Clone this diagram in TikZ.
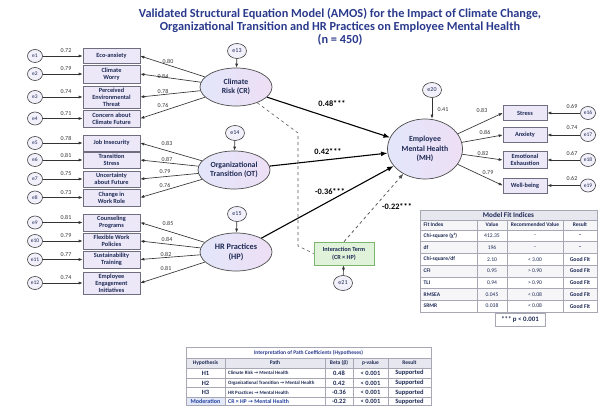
\documentclass[tikz,border=0pt]{standalone}
\usepackage{fontspec}
\setmainfont{Carlito}
\newfontfamily\dejavu{DejaVu Sans}
\usetikzlibrary{arrows.meta,shapes.geometric,calc}
\definecolor{navy}{HTML}{1E2A55}
\definecolor{titleblue}{HTML}{2A3A8C}
\definecolor{boxfill}{HTML}{ECE8F8}
\definecolor{boxdraw}{HTML}{6E6E80}
\definecolor{errfill}{HTML}{F2F0FA}
\definecolor{latL}{HTML}{E3E6FA}
\definecolor{latR}{HTML}{EEDFF5}
\definecolor{greenfill}{HTML}{E0F3DA}
\definecolor{greendraw}{HTML}{7DB46E}
\definecolor{modblue}{HTML}{2440A0}
\definecolor{modfill}{HTML}{E3E9F8}
\definecolor{hdrfill}{HTML}{E7E7EF}
\definecolor{rowfill}{HTML}{F6F6F9}
\definecolor{gridc}{HTML}{A8A8B4}
\newcommand\rar{{\dejavu\char"2192}}
\begin{document}
\begin{tikzpicture}[x=1pt,y=-1pt,
  errs/.style={ellipse, draw=black!75, fill=errfill, line width=0.6pt, minimum width=15pt, minimum height=13pt, inner sep=0pt, font=\fontsize{5.5}{6}\selectfont, text=navy},
  errb/.style={errs, minimum width=19pt, minimum height=15pt, font=\fontsize{6}{7}\selectfont},
  ind/.style={rectangle, draw=boxdraw, fill=boxfill, line width=0.6pt, minimum width=57pt, inner sep=0.5pt, align=center, font=\bfseries\fontsize{6.3}{6.9}\selectfont, text=navy},
  indr/.style={ind, minimum width=44pt},
  lat/.style={ellipse, draw=black!70, line width=0.7pt, left color=latL, right color=latR, minimum width=72pt, minimum height=38pt, inner sep=0pt, align=center, font=\bfseries\fontsize{7.8}{9.2}\selectfont, text=navy},
  arr/.style={draw=black!80, line width=0.65pt, -{Latex[length=4pt,width=3pt]}},
  parr/.style={draw=black, line width=1.1pt, -{Latex[length=6.5pt,width=5pt]}},
  lbl/.style={font=\fontsize{6}{7}\selectfont, text=black!80, inner sep=0.5pt},
  plbl/.style={font=\bfseries\fontsize{8.3}{9}\selectfont, text=black, inner sep=0.5pt},
  tcell/.style={font=\bfseries\fontsize{5.5}{6}\selectfont, text=navy, inner sep=0.5pt},
  grid/.style={draw=gridc, line width=0.5pt}
]
\useasboundingbox[fill=white] (0,0) rectangle (599,406);

% title
\node[align=center, text=titleblue, font=\bfseries\fontsize{12.3}{13}\selectfont] (title) at (340,27)
 {Validated Structural Equation Model (AMOS) for the Impact of Climate Change,\\
  Organizational Transition and HR Practices on Employee Mental Health\\(n = 450)};

% latent variables
\node[lat] (CR) at (236,87) {Climate\\Risk (CR)};
\node[lat] (OT) at (234,170) {Organizational\\Transition (OT)};
\node[lat, font=\bfseries\fontsize{8.3}{9.8}\selectfont] (HP) at (236,252) {HR Practices\\(HP)};
\node[lat, minimum width=75pt, minimum height=60pt] (MH) at (425,149) {Employee\\Mental Health\\(MH)};

\node[errb] (e13) at (237,51) {e13};
\node[errb] (e14) at (235,133) {e14};
\node[errb] (e15) at (237,214) {e15};
\node[errb] (e20) at (432,90) {e20};
\draw[arr] (e13) -- (CR);
\draw[arr] (e14) -- (OT);
\draw[arr] (e15) -- (HP);
\draw[arr] (e20) -- (e20 |- MH.north);
\node[lbl] (l20) at (443,110) {0.41};

% left indicators
\foreach \i/\y/\h/\txt/\l in {
  1/56/15/Eco-anxiety/0.72,
  2/74/18/Climate\\Worry/0.79,
  3/97/22/Perceived\\Environmental\\Threat/0.74,
  4/118.5/17/Concern about\\Climate Future/0.71,
  5/143/16/Job Insecurity/0.78,
  6/160/16/Transition\\Stress/0.81,
  7/179/16/Uncertainty\\about Future/0.75,
  8/197.5/17/Change in\\Work Role/0.73,
  9/222.5/17/Counseling\\Programs/0.81,
  10/241/16/Flexible Work\\Policies/0.79,
  11/259.5/17/Sustainability\\Training/0.77,
  12/283/22/Employee\\Engagement\\Initiatives/0.74}{
  \node[ind, minimum height=\h pt] (b\i) at (111.5,\y) {\txt};
  \node[errs] (e\i) at (35,\y) {e\i};
  \draw[arr] (e\i) -- (b\i);
  \node[lbl] (le\i) at (66,\y-5) {\l};
}
% loadings left
\foreach \i/\src/\l/\lx/\ly in {
  1/CR/0.80/168/61, 2/CR/0.84/163/76, 3/CR/0.78/163/91, 4/CR/0.76/163/105,
  5/OT/0.83/167/143, 6/OT/0.87/167/159, 7/OT/0.79/165/172, 8/OT/0.76/165/185,
  9/HP/0.85/168/223, 10/HP/0.84/167/239, 11/HP/0.82/166/254, 12/HP/0.81/166/268}{
  \draw[arr] (\src) -- (b\i.east);
  \node[lbl] (lb\i) at (\lx,\ly) {\l};
}

% right indicators
\foreach \i/\y/\h/\txt/\le/\lm/\lx/\ly in {
  16/113/15/Stress/0.69/0.83/482/110,
  17/135/15/Anxiety/0.74/0.86/485/132,
  18/160/17/Emotional\\Exhaustion/0.67/0.82/483/153,
  19/185.5/15/Well-being/0.62/0.79/488/173}{
  \node[indr, minimum height=\h pt] (b\i) at (525,\y) {\txt};
  \node[errs] (e\i) at (588,\y) {e\i};
  \draw[arr] (e\i) -- (b\i);
  \node[lbl] (le\i) at (572,\y-7) {\le};
  \draw[arr] (MH) -- (b\i.west);
  \node[lbl] (lb\i) at (\lx,\ly) {\lm};
}

% structural paths
\draw[parr] (CR) -- (MH);
\node[plbl] (p1) at (332,104) {0.48***};
\draw[parr] (OT) -- (MH);
\node[plbl] (p2) at (328,152) {0.42***};
\draw[parr] (HP) -- (MH);
\node[plbl] (p3) at (330,192) {-0.36***};

% interaction term
\node[rectangle, draw=greendraw, fill=greenfill, line width=0.6pt, minimum width=60pt, minimum height=23pt, align=center, inner sep=0.5pt, font=\bfseries\fontsize{6.2}{7.6}\selectfont, text=navy] (IT) at (344,253.5) {Interaction Term\\(CR × HP)};
\node[errb] (e21) at (343,283) {e21};
\draw[arr] (e21) -- (IT);
\coordinate (d1) at (298,133);
\coordinate (d2) at (298,246);
\draw[black!65, line width=0.6pt, dashed] (CR) -- (d1) -- (d2) -- (IT.west);
\draw[black!70, line width=0.7pt, dashed, -{Latex[length=5pt,width=4pt]}] (IT.north) -- (MH);
\node[plbl] (p4) at (397,207) {-0.22***};

% model fit table
\fill[hdrfill] (420,210) rectangle (597,220);
\fill[rowfill] (420,220) rectangle (597,230);
\foreach \k in {1,3,5}{\fill[rowfill] (420,230+11.7*\k) rectangle (597,230+11.7*\k+11.7);}
\draw[grid] (420,210) rectangle (597,312);
\draw[grid] (420,220) -- (597,220);
\foreach \k in {0,...,6}{\draw[grid] (420,230+11.7*\k) -- (597,230+11.7*\k);}
\foreach \cx in {477,507,563}{\draw[grid] (\cx,220) -- (\cx,312);}
\node[tcell, font=\bfseries\fontsize{7.2}{8}\selectfont] (fitT) at (508.5,215) {Model Fit Indices};
\node[tcell, anchor=west] (fh1) at (423,225) {Fit Index};
\node[tcell] (fh2) at (492,225) {Value};
\node[tcell] (fh3) at (535,225) {Recommended Value};
\node[tcell] (fh4) at (580,225) {Result};
\foreach \k/\a/\b/\c/\d in {
  0/{Chi-square (χ²)}/412.35/–/–,
  1/df/196/–/–,
  2/{Chi-square/df}/2.10/< 3.00/Good Fit,
  3/CFI/0.95/> 0.90/Good Fit,
  4/TLI/0.94/> 0.90/Good Fit,
  5/RMSEA/0.045/< 0.08/Good Fit,
  6/SRMR/0.038/< 0.08/Good Fit}{
  \node[tcell, anchor=west] (fa\k) at (423,235.85+11.7*\k) {\a};
  \node[tcell, font=\fontsize{5.6}{6}\selectfont] (fb\k) at (492,235.85+11.7*\k) {\b};
  \node[tcell, font=\fontsize{5.6}{6}\selectfont] (fc\k) at (535,235.85+11.7*\k) {\c};
  \node[tcell, font=\bfseries\fontsize{5.8}{6}\selectfont] (fd\k) at (580,235.85+11.7*\k) {\d};
}
\node[rectangle, draw=gridc, line width=0.6pt, minimum width=50pt, minimum height=13pt, inner sep=0.5pt, font=\bfseries\fontsize{6.8}{7}\selectfont, text=navy] (pnote) at (520,319.5) {*** p < 0.001};

% hypotheses table
\fill[hdrfill] (186,358) rectangle (431,368);
\fill[modfill] (186,397) rectangle (225,405.5);
\draw[grid] (186,347) rectangle (431,405.5);
\foreach \ry in {358,368,378,387.5,397}{\draw[grid] (186,\ry) -- (431,\ry);}
\foreach \cx in {225,325,353,388}{\draw[grid] (\cx,358) -- (\cx,405.5);}
\node[tcell, text=titleblue] (hT) at (308.5,352.5) {Interpretation of Path Coefficients (Hypotheses)};
\node[tcell] (hh1) at (205.5,363) {Hypothesis};
\node[tcell] (hh2) at (275,363) {Path};
\node[tcell] (hh3) at (339,363) {Beta (β)};
\node[tcell] (hh4) at (370.5,363) {p-value};
\node[tcell] (hh5) at (409.5,363) {Result};
\foreach \k/\ry/\a/\b/\c in {
  1/373/H1/{Climate Risk \rar\ Mental Health}/0.48,
  2/383/H2/{Organizational Transition \rar\ Mental Health}/0.42,
  3/392.5/H3/{HR Practices \rar\ Mental Health}/-0.36}{
  \node[tcell, font=\bfseries\fontsize{6.5}{7}\selectfont] (ha\k) at (205.5,\ry) {\a};
  \node[tcell, anchor=west, font=\bfseries\fontsize{4.9}{5.5}\selectfont] (hb\k) at (227.5,\ry) {\b};
  \node[tcell, font=\bfseries\fontsize{6.5}{7}\selectfont] (hc\k) at (339,\ry) {\c};
  \node[tcell, font=\bfseries\fontsize{6.5}{7}\selectfont] (hd\k) at (370.5,\ry) {< 0.001};
  \node[tcell, font=\bfseries\fontsize{6.5}{7}\selectfont] (he\k) at (409.5,\ry) {Supported};
}
\node[tcell, text=modblue, font=\bfseries\fontsize{6}{7}\selectfont] (ha4) at (205.5,401.5) {Moderation};
\node[tcell, anchor=west, text=modblue, font=\bfseries\fontsize{5.8}{6.5}\selectfont] (hb4) at (227.5,401.5) {CR × HP \rar\ Mental Health};
\node[tcell, font=\bfseries\fontsize{6.5}{7}\selectfont] (hc4) at (339,401.5) {-0.22};
\node[tcell, font=\bfseries\fontsize{6.5}{7}\selectfont] (hd4) at (370.5,401.5) {< 0.001};
\node[tcell, font=\bfseries\fontsize{6.5}{7}\selectfont] (he4) at (409.5,401.5) {Supported};
\end{tikzpicture}
\end{document}
